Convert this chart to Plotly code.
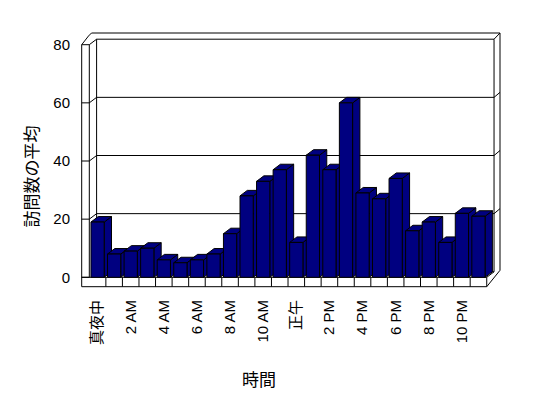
import plotly.graph_objects as go

# ---- data ----
hours = list(range(24))
values = [19, 8, 9, 10, 6, 5, 6, 8, 15, 28, 33, 37, 12, 42, 37, 60, 29, 27, 34, 16, 19, 12, 22, 21]
tick_hours = [0, 2, 4, 6, 8, 10, 12, 14, 16, 18, 20, 22]
tick_labels = ["真夜中", "2 AM", "4 AM", "6 AM", "8 AM", "10 AM", "正午", "2 PM", "4 PM", "6 PM", "8 PM", "10 PM"]
y_ticks = [0, 20, 40, 60, 80]
x_title = "時間"
y_title = "訪問数の平均"

# ---- geometry (window pixels) ----
WIN_W, WIN_H = 548, 398
OFF = 8                                 # page body margin
PL, PR, PT, PB = 81, 502, 32, 288      # plot area (window px)
FX0 = 89.3      # front plane left edge (category -0.5)
SLOT = 16.56    # px per category
FY0 = 277.3     # value 0 on front plane
PXV = 2.9075    # px per value unit
DXP, DYP = 7.3, 5.5   # depth offset in px
WALL_L = 81.7   # outer left wall edge
FLOOR_B = 286.7 # floor bottom edge
OUT_R = 500.0
OUT_T = 33.0
BAR_W = 0.8

def X(px):
    return (px - FX0) / SLOT - 0.5

def Y(py):
    return (FY0 - py) / PXV

def px_of(c):
    return FX0 + SLOT * (c + 0.5)

def py_of(v):
    return FY0 - PXV * v

DX = DXP / SLOT
DY = DYP / PXV

shapes = []
LINE = dict(color="black", width=1)

def seg(p1, p2):
    shapes.append(dict(type="line", xref="x", yref="y", layer="below",
                       x0=X(p1[0]), y0=Y(p1[1]), x1=X(p2[0]), y1=Y(p2[1]), line=LINE))

def poly(pts_data, fill):
    path = "M " + " L ".join(f"{x},{y}" for x, y in pts_data) + " Z"
    shapes.append(dict(type="path", xref="x", yref="y", layer="below", path=path,
                       fillcolor=fill, line=LINE))

front_r = px_of(23.5)
back_l, back_r = FX0 + DXP, front_r + DXP
back_top = py_of(80) - DYP
back_floor = FY0 - DYP

# outer silhouette
outline = [(WALL_L, py_of(80)), (88.5, 36), (91.5, OUT_T), (OUT_R, OUT_T), (OUT_R, back_floor - 1.5),
           (front_r, FLOOR_B), (WALL_L, FLOOR_B), (WALL_L, py_of(80))]
for a, b in zip(outline[:-1], outline[1:]):
    seg(a, b)
# walls
seg((FX0, py_of(80)), (FX0, FY0))
seg((back_l, back_top), (back_l, back_floor))
seg((back_r, back_top), (back_r, back_floor))
seg((back_r, back_top), (OUT_R, OUT_T))
# floor
seg((WALL_L, FY0), (front_r, FY0))
seg((front_r, FY0), (back_r, back_floor))
seg((front_r, FY0), (front_r, FLOOR_B))
seg((back_l, back_floor), (back_r, back_floor))
# gridlines
for v in y_ticks:
    yf = py_of(v)
    seg((WALL_L, yf), (FX0, yf))
    if v > 0:
        seg((FX0, yf), (back_l, yf - DYP))
        seg((back_l, yf - DYP), (back_r, yf - DYP))
        if v < 80:
            seg((back_r, yf - DYP), (OUT_R, yf - DYP - 5))
# category ticks on floor front
for k in range(1, len(hours)):
    xk = FX0 + SLOT * k
    seg((xk, FY0), (xk, FLOOR_B))

# bar tops and sides (3D faces)
NAVY = "#000080"
for c, v in zip(hours, values):
    xl, xr = c - BAR_W / 2, c + BAR_W / 2
    poly([(xr, 0), (xr, v), (xr + DX, v + DY), (xr + DX, DY)], NAVY)
    poly([(xl, v), (xr, v), (xr + DX, v + DY), (xl + DX, v + DY)], NAVY)

fig = go.Figure()
fig.add_trace(go.Bar(x=hours, y=values, width=BAR_W,
                     marker=dict(color=NAVY, line=dict(color="black", width=1)),
                     hoverinfo="skip"))

FONT = "Liberation Sans, Arial, Noto Sans CJK JP"

def paper_x(px):
    return (px - PL) / (PR - PL)

def paper_y(py):
    return (PB - py) / (PB - PT)

fig.update_layout(
    width=WIN_W - OFF, height=WIN_H - OFF,
    margin=dict(l=PL - OFF, r=WIN_W - PR, t=PT - OFF, b=WIN_H - PB, pad=0),
    paper_bgcolor="white", plot_bgcolor="white",
    showlegend=False,
    font=dict(family=FONT, color="black", size=15),
    shapes=shapes,
    xaxis=dict(range=[X(PL), X(PR)], tickmode="array", tickvals=tick_hours,
               ticktext=tick_labels, tickangle=-90,
               showgrid=False, zeroline=False, showline=False, ticks="",
               ticklabelstandoff=8, tickfont=dict(size=15, family=FONT)),
    yaxis=dict(range=[Y(PB), Y(PT)], tickmode="array", tickvals=y_ticks,
               showgrid=False, zeroline=False, showline=False, ticks="",
               ticklabelstandoff=10, tickfont=dict(size=15, family=FONT)),
    annotations=[
        dict(text=y_title, xref="paper", yref="paper", x=paper_x(30), y=paper_y(176.5),
             textangle=-90, showarrow=False, font=dict(size=17, family="Noto Sans CJK JP"),
             xanchor="center", yanchor="middle"),
        dict(text=x_title, xref="paper", yref="paper", x=paper_x(259), y=paper_y(378),
             showarrow=False, font=dict(size=17, family="Noto Sans CJK JP"),
             xanchor="center", yanchor="middle"),
    ],
)

fig.write_html("out.html")
